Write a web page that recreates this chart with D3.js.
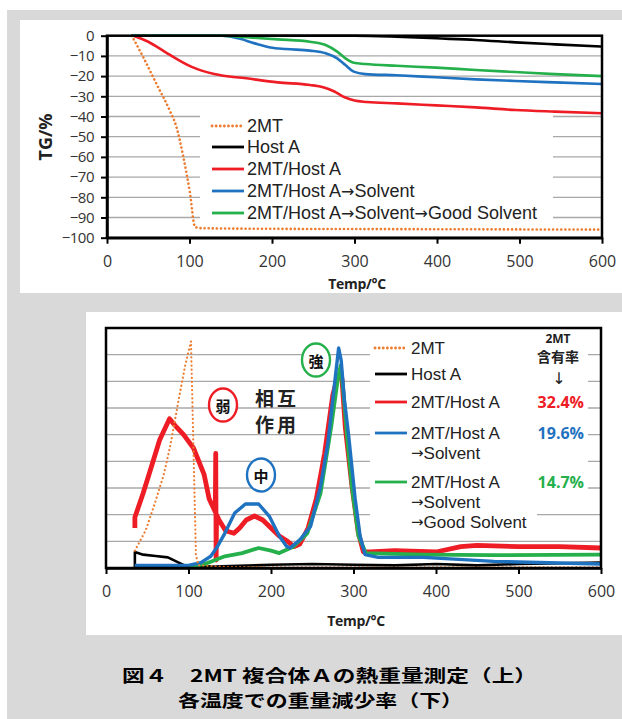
<!DOCTYPE html>
<html><head><meta charset="utf-8">
<script src="https://cdn.jsdelivr.net/npm/d3@7"></script>
<style>
html,body{margin:0;padding:0;background:#fff;}
svg text{font-family:"Open Sans","Noto Sans CJK JP",sans-serif;}
</style></head>
<body>
<script>
// ---------- DATA ----------
const xTicks = [0,100,200,300,400,500,600];
const yTicksTG = [0,-10,-20,-30,-40,-50,-60,-70,-80,-90,-100];
const seriesNames = ["2MT","Host A","2MT/Host A","2MT/Host A\u2192Solvent","2MT/Host A\u2192Solvent\u2192Good Solvent"];
const bottomLegend = [["2MT"],["Host A"],["2MT/Host A"],["2MT/Host A","\u2192Solvent"],["2MT/Host A","\u2192Solvent","\u2192Good Solvent"]];
const contentRates = ["32.4%","19.6%","14.7%"];

// TG (top) [temp, TG%]
const tg2MT = [[30,0],[44,-10.7],[60,-23.9],[76,-37],[84,-45],[92.5,-60],[100.6,-78],[106.7,-94.7],[115,-95.3],[200,-95.6],[400,-95.8],[600,-96]];
const tgHostA = [[30,0],[300,0],[351,-0.5],[399,-1.3],[447,-2.1],[495,-3.3],[543,-4.3],[600,-5.4]];
const tgMTA = [[32,0],[50,-3],[73,-8.7],[102,-15.3],[130,-19],[169,-21.1],[207,-23.1],[246,-24.4],[262,-25.5],[275,-27.5],[288,-30.5],[300,-32.1],[315,-32.8],[351,-33.5],[399,-34.5],[447,-35.5],[495,-36.8],[543,-37.6],[600,-38.4]];
const tgSolv = [[30,0],[140,0],[159,-1.3],[179,-3.8],[198,-5.8],[217,-6.6],[246,-7.4],[265,-8.7],[279,-11.2],[289,-14.5],[299,-17.8],[313,-19],[351,-19.6],[399,-20.6],[447,-21.6],[495,-22.4],[543,-23.1],[600,-23.9]];
const tgGood = [[30,0],[140,0],[159,-0.5],[207,-1.8],[246,-3],[265,-4.6],[279,-7.9],[289,-11.2],[299,-13.4],[313,-14],[351,-14.9],[399,-15.8],[447,-17],[495,-18],[543,-19],[600,-20]];

// DTG (bottom) [temp, arbitrary units]
const dtg2MT = [[35,0.65],[48,1.4],[60,2.5],[70,3.5],[78,4.6],[88,6.3],[96,7.6],[103,8.5],[109,0.5],[112,0.1],[150,0.03],[600,0.02]];
const dtgHostA = [[35,0],[35,0.6],[45,0.5],[60,0.45],[75,0.4],[85,0.25],[95,0.1],[130,0.05],[200,0.12],[250,0.15],[300,0.12],[350,0.1],[400,0.15],[450,0.1],[500,0.15],[600,0.2]];
const dtgMTA = [[35,1.5],[35,1.9],[45,2.8],[55,3.8],[65,4.8],[77,5.6],[85,5.3],[94,5.0],[106,4.5],[119,3.5],[125,2.6],[132.5,2.1],[133,4.3],[133.5,0.3],[134,2.0],[137,1.8],[145,1.4],[155,1.3],[162,1.5],[170,1.8],[180,1.95],[190,1.8],[200,1.5],[210,1.2],[220,1.0],[228,0.8],[235,0.9],[245,1.5],[255,2.6],[265,4.3],[275,6.5],[281,7.2],[286,7.1],[290,5.3],[298,3.1],[306,1.3],[312,0.6],[320,0.6],[350,0.65],[400,0.6],[430,0.8],[450,0.85],[500,0.8],[550,0.8],[600,0.75]];
const dtgSolv = [[35,0.1],[100,0.1],[115,0.2],[127,0.44],[135,0.8],[144,1.3],[156,2.06],[169,2.4],[185,2.4],[198,1.94],[210,1.2],[219,0.81],[223,0.75],[235,1.06],[248,1.56],[260,3.06],[269,4.7],[277,6.9],[282,8.25],[285,7.8],[289,6.3],[294,5.0],[302,2.6],[308,1.2],[314,0.5],[330,0.4],[385,0.4],[470,0.25],[600,0.15]];
const dtgGood = [[35,0.05],[100,0.05],[120,0.15],[144,0.44],[165,0.56],[185,0.75],[200,0.65],[210,0.56],[227,0.8],[244,1.3],[260,2.8],[273,5.3],[281,7.1],[284.5,7.6],[288,6.5],[292,5.0],[298,3.06],[306,1.2],[315,0.56],[385,0.5],[469,0.48],[600,0.5]];

// ---------- STYLE ----------
const C = {orange:"#ED7D31", black:"#000", red:"#EE1C25", blue:"#1F72C0", green:"#25B04C", grid:"#a8a8a8"};
const LEGFONT = "Liberation Sans";
const W=622,H=719;
const svg = d3.select("body").append("svg").attr("width",W).attr("height",H);
svg.append("rect").attr("width",W).attr("height",H).attr("fill","#fff");
svg.append("rect").attr("x",7).attr("y",10).attr("width",W-7).attr("height",H-10).attr("fill","#d9d9d9");
svg.append("rect").attr("x",20).attr("y",20).attr("width",W-20).attr("height",273).attr("fill","#fff");
svg.append("rect").attr("x",86).attr("y",312).attr("width",W-86).attr("height",323).attr("fill","#fff");

function styleSeries(sel, key, w){
  const col = C[key];
  sel.attr("fill","none").attr("stroke",col).attr("stroke-width",w).attr("stroke-linejoin","round");
  if(key==="orange") sel.attr("stroke-dasharray","0.1,4").attr("stroke-linecap","round");
}
// write a label; arrows drawn with a font that has a full-size arrow glyph
function writeLabel(textSel, str, arrowSize){
  str.split(/(\u2192)/).filter(s=>s.length).forEach(part=>{
    const ts = textSel.append("tspan").text(part);
    if(part==="\u2192") ts.style("font-family","DejaVu Sans").attr("font-size",arrowSize);
  });
}

// ---------- TOP CHART ----------
const xT = d3.scaleLinear([0,600],[107,602]);
const yT = d3.scaleLinear([-100,0],[237.7,35.7]);
const gT = svg.append("g");
gT.selectAll("line.grid").data(yTicksTG.filter(v=>v!==0&&v!==-100)).join("line")
  .attr("x1",xT(0)).attr("x2",xT(600)).attr("y1",d=>yT(d)).attr("y2",d=>yT(d))
  .attr("stroke",C.grid).attr("stroke-width",1.3);
gT.append("rect").attr("x",200).attr("y",108).attr("width",353).attr("height",116).attr("fill","#fff");

const lineT = d3.line().x(d=>xT(d[0])).y(d=>yT(d[1])).curve(d3.curveMonotoneX);
const topSeries = [[tg2MT,"orange",2.6],[tgHostA,"black",2.6],[tgMTA,"red",2.6],[tgSolv,"blue",2.6],[tgGood,"green",2.6]];
topSeries.forEach(([d,k,w])=>{ gT.append("path").attr("d",lineT(d)).call(styleSeries,k,w); });

gT.append("rect").attr("x",xT(0)).attr("y",yT(0)).attr("width",xT(600)-xT(0)).attr("height",yT(-100)-yT(0))
  .attr("fill","none").attr("stroke","#000").attr("stroke-width",2.5);
const axL = gT.append("g").attr("transform",`translate(${xT(0)},0)`)
  .call(d3.axisLeft(yT).tickValues(yTicksTG).tickSize(6).tickSizeOuter(0).tickPadding(7));
const axB = gT.append("g").attr("transform",`translate(0,${yT(-100)})`)
  .call(d3.axisBottom(xT).tickValues(xTicks).tickSize(6).tickSizeOuter(0).tickPadding(12));
[axL,axB].forEach(a=>{ a.select(".domain").attr("stroke","#000").attr("stroke-width",2.5);
  a.selectAll(".tick line").attr("stroke","#000").attr("stroke-width",2);
  a.selectAll("text").attr("fill","#333").style("font-family","Open Sans"); });
axL.selectAll("text").attr("font-size",15).attr("letter-spacing","-0.5");
axB.selectAll("text").attr("font-size",16);

gT.append("text").attr("transform","translate(45,137) rotate(-90)").attr("text-anchor","middle")
  .attr("dominant-baseline","central").attr("font-weight","bold").attr("font-size",18).attr("fill","#222").text("TG/%");
gT.append("text").attr("x",357).attr("y",283).attr("text-anchor","middle").attr("dominant-baseline","central")
  .attr("font-weight","bold").attr("font-size",14).attr("fill","#222").attr("letter-spacing","-0.3").text("Temp/\u00B0C");

const legT = gT.append("g");
const legRowsT = [126,147,169,191,213];
const legKeys = ["orange","black","red","blue","green"];
seriesNames.forEach((n,i)=>{
  legT.append("line").attr("x1",212).attr("x2",244).attr("y1",legRowsT[i]).attr("y2",legRowsT[i]).call(styleSeries,legKeys[i],2.8);
  const t = legT.append("text").attr("x",247).attr("y",legRowsT[i]).attr("dominant-baseline","central")
    .attr("font-size",18).attr("fill","#222").style("font-family",LEGFONT);
  writeLabel(t,n,16);
});

// ---------- BOTTOM CHART ----------
const xB = d3.scaleLinear([0,600],[106,601]);
const yB = d3.scaleLinear([0,9],[568,328]);
const gB = svg.append("g");
gB.selectAll("line.grid").data(d3.range(1,9)).join("line")
  .attr("x1",xB(0)).attr("x2",xB(600)).attr("y1",d=>yB(d)).attr("y2",d=>yB(d))
  .attr("stroke",C.grid).attr("stroke-width",1.3);
gB.append("rect").attr("x",370).attr("y",329).attr("width",167).attr("height",204).attr("fill","#fff");
gB.append("rect").attr("x",520).attr("y",329).attr("width",68).attr("height",166).attr("fill","#fff");

const lineB = d3.line().x(d=>xB(d[0])).y(d=>yB(d[1])).curve(d3.curveLinear);
const botSeries = [[dtgHostA,"black",2.6],[dtgMTA,"red",4.8],[dtgGood,"green",3.8],[dtgSolv,"blue",3.4],[dtg2MT,"orange",2.2]];
botSeries.forEach(([d,k,w])=>{ gB.append("path").attr("d",lineB(d)).call(styleSeries,k,w); });

gB.append("rect").attr("x",xB(0)).attr("y",yB(9)).attr("width",xB(600)-xB(0)).attr("height",yB(0)-yB(9))
  .attr("fill","none").attr("stroke","#000").attr("stroke-width",2.5);
const axB2 = gB.append("g").attr("transform",`translate(0,${yB(0)})`)
  .call(d3.axisBottom(xB).tickValues(xTicks).tickSize(6).tickSizeOuter(0).tickPadding(12));
axB2.select(".domain").attr("stroke","#000").attr("stroke-width",2.5);
axB2.selectAll(".tick line").attr("stroke","#000").attr("stroke-width",2);
axB2.selectAll("text").attr("fill","#333").attr("font-size",16).style("font-family","Open Sans");
gB.append("text").attr("x",356).attr("y",620).attr("text-anchor","middle").attr("dominant-baseline","central")
  .attr("font-weight","bold").attr("font-size",14).attr("fill","#222").attr("letter-spacing","-0.3").text("Temp/\u00B0C");

// legend bottom
const legRowsB = [348,374,402,433,482];
bottomLegend.forEach((lines,i)=>{
  gB.append("line").attr("x1",375).attr("x2",407).attr("y1",legRowsB[i]).attr("y2",legRowsB[i]).call(styleSeries,legKeys[i],2.8);
  lines.forEach((s,j)=>{
    const t = gB.append("text").attr("x",411).attr("y",legRowsB[i]+j*20).attr("dominant-baseline","central")
      .attr("font-size",17).attr("fill","#222").style("font-family",LEGFONT);
    writeLabel(t,s,15);
  });
});
const rateCols = [C.red,C.blue,C.green];
contentRates.forEach((r,i)=>{
  gB.append("text").attr("x",584).attr("y",legRowsB[i+2]).attr("text-anchor","end").attr("dominant-baseline","central")
    .attr("font-weight","bold").attr("font-size",16).attr("fill",rateCols[i]).text(r);
});
gB.append("text").attr("x",558).attr("y",338).attr("text-anchor","middle").attr("dominant-baseline","central")
  .attr("font-weight","bold").attr("font-size",12).attr("fill","#222").text("2MT");
gB.append("text").attr("x",558).attr("y",356).attr("text-anchor","middle").attr("dominant-baseline","central")
  .attr("font-weight","bold").attr("font-size",14).attr("fill","#222").style("font-family","Noto Sans CJK JP").text("含有率");
gB.append("text").attr("x",559).attr("y",378).attr("text-anchor","middle").attr("dominant-baseline","central")
  .attr("font-size",16).attr("fill","#222").style("font-family","DejaVu Sans").text("\u2193");

// annotations
const circ = [["弱",223,405,C.red],["中",261,475,C.blue],["強",316,360,C.green]];
circ.forEach(([t,cx,cy,col])=>{
  gB.append("ellipse").attr("cx",cx).attr("cy",cy).attr("rx",14).attr("ry",16.5).attr("fill","#fff").attr("stroke",col).attr("stroke-width",2.4);
  gB.append("text").attr("x",cx).attr("y",cy).attr("text-anchor","middle").attr("dominant-baseline","central")
    .attr("font-size",15).attr("font-weight","bold").attr("fill","#111").style("font-family","Noto Sans CJK JP").text(t);
});
["相互","作用"].forEach((t,i)=>{
  gB.append("text").attr("x",277).attr("y",397+i*26).attr("text-anchor","middle").attr("dominant-baseline","central")
    .attr("font-size",19).attr("font-weight","bold").attr("letter-spacing","3").attr("fill","#222")
    .style("font-family","Noto Sans CJK JP").text(t);
});

// caption
svg.append("text").attr("x",122).attr("y",682).attr("textLength",415).attr("lengthAdjust","spacingAndGlyphs")
  .attr("font-size",17).attr("font-weight","bold").attr("fill","#000").style("font-family","Noto Sans CJK JP")
  .text("図４　2MT 複合体Ａの熱重量測定（上）");
svg.append("text").attr("x",178).attr("y",707).attr("textLength",285).attr("lengthAdjust","spacingAndGlyphs")
  .attr("font-size",17).attr("font-weight","bold").attr("fill","#000").style("font-family","Noto Sans CJK JP")
  .text("各温度での重量減少率（下）");
</script>
</body></html>
